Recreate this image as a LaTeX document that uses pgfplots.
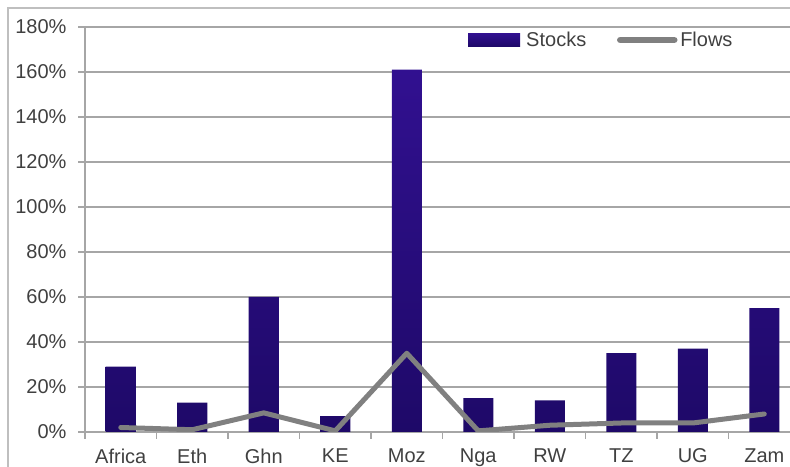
\documentclass[border=0pt]{standalone}
\usepackage{fontspec}
\setmainfont{Liberation Sans}
\usepackage{pgfplots}
\pgfplotsset{compat=1.18}
\definecolor{gridc}{HTML}{A6A6A6}
\definecolor{framec}{HTML}{BFBFBF}
\definecolor{txt}{HTML}{404040}
\definecolor{bartop}{HTML}{311090}
\definecolor{barbot}{HTML}{1E0968}
\definecolor{flowc}{HTML}{808080}
\begin{document}
\begin{tikzpicture}[x=1bp,y=1bp]
\clip (0,0) rectangle (790,467);
\draw[framec, line width=1.2bp] (8,-20) rectangle (900,459);
\begin{axis}[
  at={(85bp,35bp)}, anchor=south west,
  scale only axis, width=705bp, height=405bp,
  xmin=-0.5, xmax=9.36, ymin=0, ymax=180,
  axis lines=left,
  axis line style={-, draw=gridc, line width=1.5bp},
  ymajorgrids, grid style={gridc, line width=1.5bp},
  ytick={0,20,...,180},
  /pgf/number format/assume math mode=true,
  yticklabel={\pgfmathprintnumber{\tick}\%},
  yticklabel style={xshift=-8bp},
  tick align=outside, major tick length=7bp,
  tick style={gridc, line width=1.5bp},
  xtick={-0.5,0.5,...,8.5}, xticklabels={},
  extra x ticks={0,1,2,3,4,5,6,7,8,9},
  extra x tick labels={Africa,Eth,Ghn,KE,Moz,Nga,RW,TZ,UG,Zam},
  extra x tick style={major tick length=0pt, xticklabel style={yshift=-13bp}},
  tick label style={font=\fontsize{20bp}{23bp}\selectfont, text=txt},
  legend columns=2,
  legend style={draw=none, fill=none, at={(0.5433,0.968)}, anchor=west,
    inner sep=0pt, column sep=0pt,
    font=\fontsize{20bp}{23bp}\selectfont, text=txt,
    nodes={inner sep=0pt},
    /tikz/every even column/.append style={column sep=28bp}},
]
\addplot[ybar, bar width=0.42, draw=none, top color=bartop, bottom color=barbot,
  legend image code/.code={\fill[barbot] (0bp,-6.5bp) rectangle (52bp,6.5bp); \path (0bp,0bp) (58bp,0bp);}]
  coordinates {(0,29) (1,13) (2,60) (3,7) (4,161) (5,15) (6,14) (7,35) (8,37) (9,55)};
\addlegendentry{Stocks}
\addplot[flowc, line width=5bp, line join=round, line cap=round, mark=none,
  legend image code/.code={\draw[flowc, line width=6.5bp, line cap=round] (3.5bp,0bp) -- (57.5bp,0bp); \path (0bp,0bp) (61bp,0bp);}]
  coordinates {(0,2) (1,1) (2,8.5) (3,0.5) (4,35) (5,0.5) (6,3) (7,4) (8,4) (9,8)};
\addlegendentry{Flows}
\end{axis}
\end{tikzpicture}
\end{document}
